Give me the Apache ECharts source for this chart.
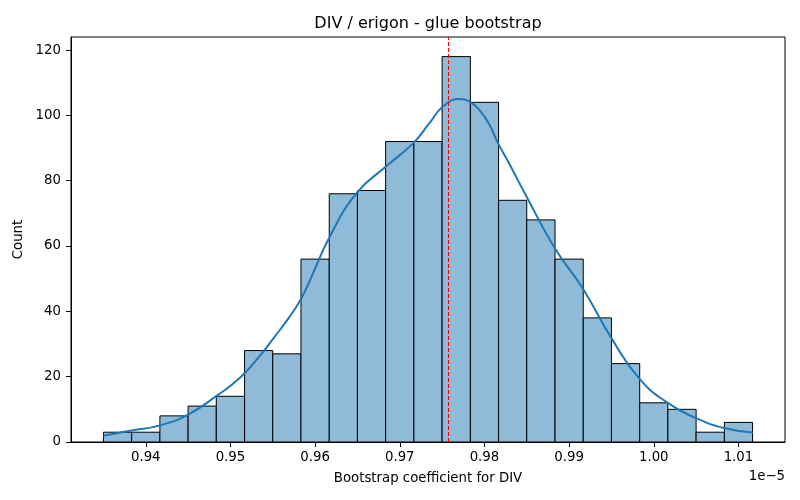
<!DOCTYPE html>
<html>
<head>
<meta charset="utf-8">
<script src="https://cdn.jsdelivr.net/npm/echarts@6.0.0/dist/echarts.min.js"></script>
<style>
  html, body { margin: 0; padding: 0; background: #fff; }
  #chart { width: 800px; height: 500px; }
</style>
</head>
<body>
<div id="chart"></div>
<script>
// histogram bins (x in units of 1e-5)
const binEdges = [0.93500, 0.93833, 0.94167, 0.94500, 0.94833, 0.95167, 0.95500, 0.95833,
  0.96167, 0.96500, 0.96833, 0.97167, 0.97500, 0.97834, 0.98167, 0.98500, 0.98834,
  0.99167, 0.99500, 0.99834, 1.00167, 1.00500, 1.00834, 1.01167];
const binCounts = [3, 3, 8, 11, 14, 28, 27, 56, 76, 77, 92, 92, 118, 104, 74, 68, 56, 38, 24, 12, 10, 3, 6];

// kde curve
const kdeX = [0.9350, 0.9383, 0.9417, 0.9450, 0.9484, 0.9511, 0.9531, 0.9551, 0.9570, 0.9584,
  0.9596, 0.9617, 0.9649, 0.9684, 0.9716, 0.9735, 0.9751, 0.9770, 0.9783, 0.9794,
  0.9806, 0.9816, 0.9830, 0.9850, 0.9883, 0.9916, 0.9950, 0.9983, 1.0017, 1.0050, 1.0083, 1.0117];
const kdeY = [1.9, 3.5, 5.1, 8.4, 14.2, 19.6, 25.2, 31.8, 38.4, 44.1,
  50.7, 62.7, 76.2, 84.4, 91.5, 97.6, 102.7, 105.0, 104.1, 101.7,
  97.1, 91.5, 84.9, 75.0, 59.4, 47.1, 31.8, 19.4, 11.9, 7.3, 4.3, 2.9];

const meanValue = 0.9757;
const xTicks = [0.94, 0.95, 0.96, 0.97, 0.98, 0.99, 1.00, 1.01];
const yTicks = [0, 20, 40, 60, 80, 100, 120];

const font = 'DejaVu Sans';
const chart = echarts.init(document.getElementById('chart'), null, { renderer: 'canvas' });

const bars = binCounts.map((c, i) => [binEdges[i], binEdges[i + 1], c]);
const kde = kdeX.map((x, i) => [x, kdeY[i]]);

const option = {
  animation: false,
  backgroundColor: '#fff',
  grid: {
    left: 71, right: 15, top: 37, bottom: 58,
    show: true, borderColor: '#000', borderWidth: 1, backgroundColor: 'transparent'
  },
  graphic: [
    {
      type: 'text', x: 428, y: 24,
      style: { text: 'DIV / erigon - glue bootstrap', font: '16px "DejaVu Sans"', fill: '#000',
        textAlign: 'center', textVerticalAlign: 'middle' }
    },
    {
      type: 'text', x: 785, y: 477,
      style: { text: '1e\u22125', font: '13.3px "DejaVu Sans"', fill: '#000',
        textAlign: 'right', textVerticalAlign: 'middle' }
    }
  ],
  xAxis: {
    type: 'value',
    min: 0.93117,
    max: 1.01550,
    name: 'Bootstrap coefficient for DIV',
    nameLocation: 'middle',
    nameGap: 30,
    nameTextStyle: { fontFamily: font, fontSize: 13.3, color: '#000' },
    axisLine: { show: true, onZero: false, lineStyle: { color: '#000', width: 1 } },
    axisTick: { show: true, length: 5, lineStyle: { color: '#000' }, customValues: xTicks },
    axisLabel: {
      fontFamily: font, fontSize: 13.3, color: '#000', margin: 9,
      customValues: xTicks,
      formatter: v => v.toFixed(2)
    },
    splitLine: { show: false }
  },
  yAxis: {
    type: 'value',
    min: 0,
    max: 124,
    name: 'Count',
    nameLocation: 'middle',
    nameGap: 36,
    nameTextStyle: { fontFamily: font, fontSize: 13.3, color: '#000' },
    axisLine: { show: true, lineStyle: { color: '#000', width: 1 } },
    axisTick: { show: true, length: 5, lineStyle: { color: '#000' }, customValues: yTicks },
    axisLabel: { fontFamily: font, fontSize: 13.3, color: '#000', margin: 10, customValues: yTicks },
    splitLine: { show: false }
  },
  series: [
    {
      type: 'custom',
      data: bars,
      encode: { x: [0, 1], y: 2 },
      renderItem: function (params, api) {
        const p0 = api.coord([api.value(0), api.value(2)]);
        const p1 = api.coord([api.value(1), 0]);
        return {
          type: 'rect',
          shape: { x: p0[0], y: p0[1], width: p1[0] - p0[0], height: p1[1] - p0[1] },
          style: { fill: '#8fbbd9', stroke: '#000', lineWidth: 1 }
        };
      },
      z: 1
    },
    {
      type: 'line',
      data: kde,
      smooth: 0.5,
      showSymbol: false,
      lineStyle: { color: '#1f77b4', width: 2 },
      itemStyle: { color: '#1f77b4' },
      z: 3,
      markLine: {
        silent: true,
        precision: 6,
        symbol: ['none', 'none'],
        label: { show: false },
        lineStyle: { color: '#ff0000', width: 1, type: [4, 2] },
        data: [{ xAxis: meanValue }]
      }
    }
  ]
};

chart.setOption(option);
</script>
</body>
</html>
